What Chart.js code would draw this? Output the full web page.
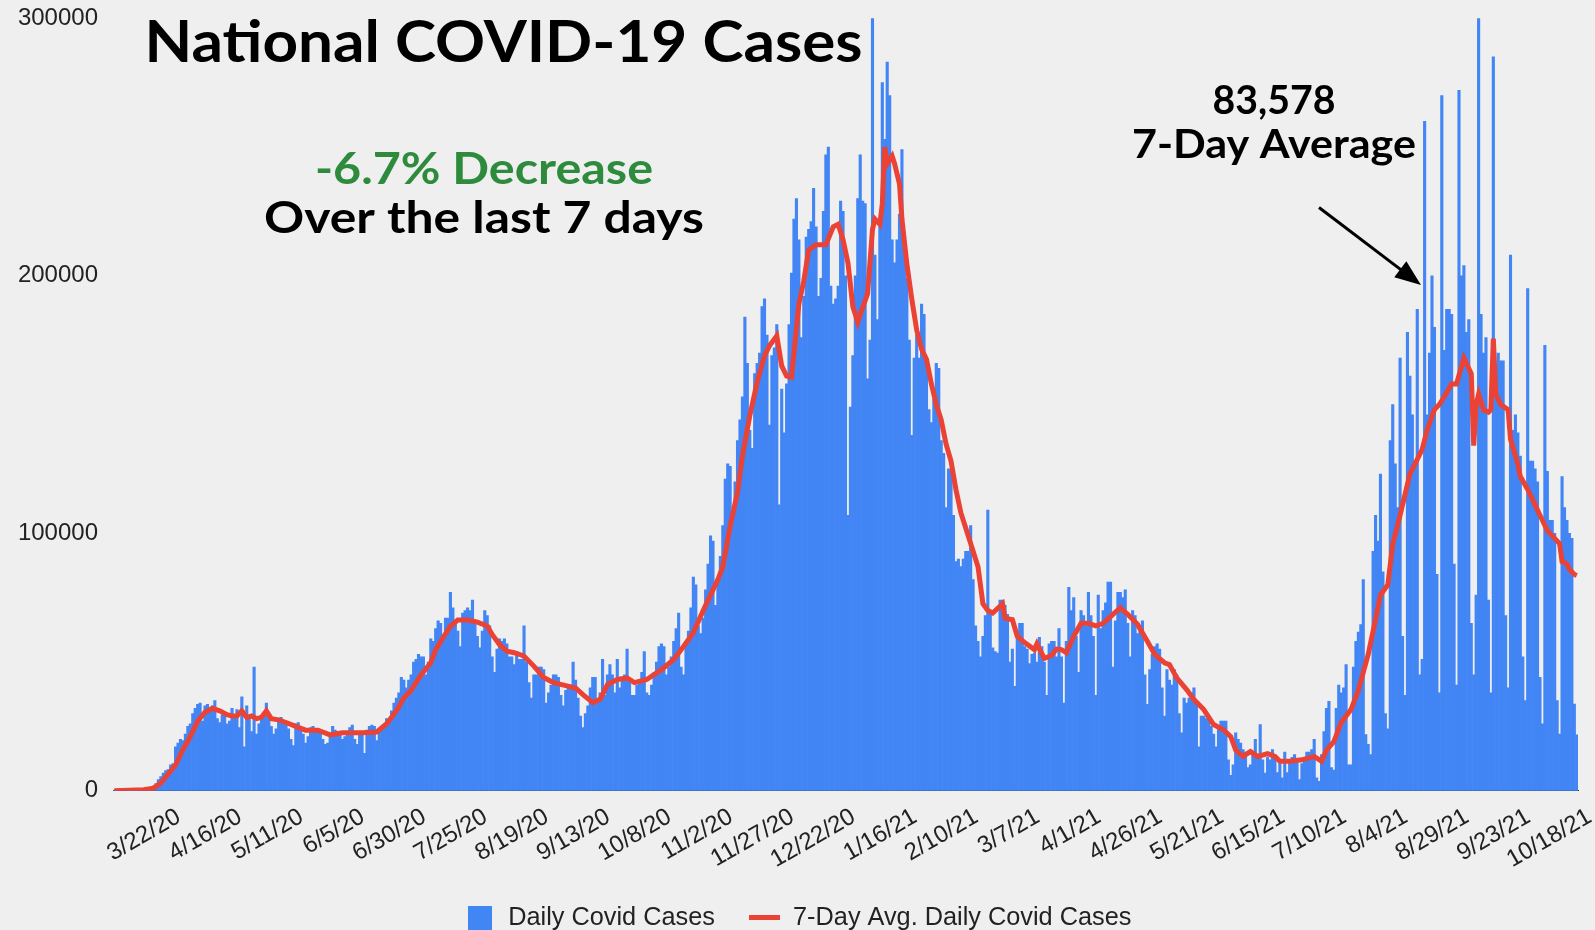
<!DOCTYPE html>
<html lang="en">
<head>
<meta charset="UTF-8">
<title>National COVID-19 Cases</title>
<script src="https://cdn.jsdelivr.net/npm/chart.js@4"></script>
<style>
  html, body { margin: 0; padding: 0; background: #efefef; }
  canvas { display: block; }
</style>
</head>
<body>
<canvas id="covidChart" width="1595" height="930"></canvas>
<script>
// one bar per day, first day is 3/1/20
const firstDay = [2020, 2, 1];

// x labels that are shown (every 25th day)
const tickLabels = ['3/22/20', '4/16/20', '5/11/20', '6/5/20', '6/30/20', '7/25/20', '8/19/20',
  '9/13/20', '10/8/20', '11/2/20', '11/27/20', '12/22/20', '1/16/21', '2/10/21', '3/7/21',
  '4/1/21', '4/26/21', '5/21/21', '6/15/21', '7/10/21', '8/4/21', '8/29/21', '9/23/21', '10/18/21'];

// daily cases, one row per week (Sun..Sat)
const dailyCases = [
  10, 20, 25, 30, 70, 60, 100,
  110, 190, 270, 440, 400, 550, 650,
  800, 1300, 1800, 2800, 4300, 5500, 6800,
  7800, 8200, 10000, 10500, 17000, 18500, 20000,
  19500, 22000, 25000, 26000, 30000, 32000, 33500,
  34000, 27000, 33000, 33500, 31000, 33000, 35000,
  28000, 26500, 29500, 30000, 26000, 27000, 32000,
  29000, 31500, 24500, 36500, 17000, 33000, 28000,
  23000, 48000, 22000, 26000, 28000, 28500, 34000,
  30000, 25000, 22000, 24000, 28000, 28500, 27000,
  25500, 24000, 20000, 17500, 26000, 26500, 24500,
  22000, 18500, 21000, 24500, 25000, 24000, 23500,
  22500, 20000, 18000, 18500, 21000, 25000, 23500,
  23000, 21500, 20000, 21000, 23000, 24500, 25500,
  20000, 18000, 23000, 23000, 14500, 23500, 25000,
  25500, 25000, 19500, 23000, 24500, 25000, 28000,
  27000, 31000, 34000, 36000, 38000, 44000, 43000,
  40000, 43000, 45000, 50000, 51000, 53000, 52000,
  52000, 45000, 50000, 59000, 58000, 63000, 66000,
  65000, 59000, 67000, 67000, 77000, 71000, 65000,
  62000, 56000, 69000, 70000, 71000, 70000, 74000,
  65000, 60000, 55500, 62000, 70000, 68000, 64000,
  52000, 46000, 55000, 59000, 58000, 59000, 57000,
  52000, 52000, 49000, 54000, 51000, 51000, 64000,
  50000, 42000, 36000, 45000, 45000, 48000, 48000,
  47000, 34000, 38000, 41000, 45000, 45000, 44000,
  37000, 33000, 39000, 40000, 41000, 50000, 43000,
  36000, 29000, 24500, 30000, 33000, 40000, 44000,
  44000, 35000, 38000, 51000, 37000, 45000, 49000,
  45000, 38000, 51000, 40000, 44000, 45000, 55000,
  43000, 37000, 37000, 41000, 43000, 46000, 54000,
  38000, 37000, 41000, 46000, 50000, 56000, 57000,
  56000, 45000, 48000, 52000, 58000, 63000, 69000,
  48000, 45000, 58000, 62000, 71000, 83000, 80000,
  64000, 61000, 67000, 78000, 88000, 99000, 97000,
  72000, 82000, 91000, 103000, 121000, 127000, 126000,
  105000, 120000, 136000, 144000, 153000, 184000, 166000,
  140000, 133000, 162000, 166000, 170000, 188000, 191000,
  177000, 142000, 169000, 172000, 181000, 111000, 156000,
  139000, 158000, 181000, 201000, 222000, 230000, 214000,
  176000, 192000, 215000, 218000, 221000, 234000, 219000,
  192000, 199000, 225000, 247000, 250000, 196000, 189000,
  191000, 196000, 229000, 225000, 200000, 107000, 149000,
  169000, 200000, 230000, 247000, 229000, 228000, 160000,
  175000, 300000, 208000, 183000, 222000, 275000, 253000,
  283000, 270000, 214000, 205000, 214000, 224000, 249000,
  209000, 199000, 175000, 138000, 168000, 177000, 168000,
  189000, 185000, 168000, 148000, 143000, 152000, 166000,
  164000, 136000, 131000, 110000, 125000, 124000, 107000,
  89000, 90000, 87000, 90000, 93000, 93000, 103000,
  82000, 64000, 58000, 52000, 60000, 68000, 109000,
  69000, 55500, 54000, 53500, 74000, 74000, 72000,
  68500, 50000, 55000, 40500, 62000, 65000, 65000,
  56000, 55000, 49400, 53000, 53500, 50000, 59600,
  56000, 50000, 37000, 57000, 58000, 58000, 52000,
  63000, 52000, 34000, 58000, 79000, 70000, 75000,
  60000, 46000, 70000, 68000, 64000, 77000, 68000,
  60000, 37000, 76000, 63000, 70000, 73000, 81000,
  81000, 48000, 66000, 77000, 77000, 75000, 78000,
  65000, 52000, 70000, 68000, 61000, 64000, 66000,
  45000, 33500, 47000, 53000, 56000, 57000, 55000,
  40000, 29000, 47000, 43000, 41000, 47000, 45000,
  30000, 22500, 36000, 34000, 36000, 38000, 40000,
  34000, 17000, 29000, 29000, 28000, 28000, 25000,
  22000, 17000, 24000, 27000, 27000, 27000, 12000,
  6000, 10000, 22500, 20000, 18500, 16000, 15000,
  9000, 10000, 15000, 20000, 14000, 25700, 12000,
  6800, 13000, 12000, 16000, 13000, 7000, 10500,
  5000, 15000, 7000, 12000, 13000, 14000, 12000,
  4300, 10500, 13000, 15000, 15000, 16000, 20000,
  5000, 3600, 14000, 23000, 32000, 34700, 9000,
  8000, 32000, 41000, 38000, 40000, 49000, 10000,
  10000, 48000, 58000, 61600, 64500, 82000, 21800,
  18000, 14000, 93000, 107000, 97000, 123000, 85000,
  30000, 24000, 136000, 150000, 127000, 110000, 168000,
  60000, 37000, 178000, 161000, 146000, 127000, 187000,
  45000, 51000, 260000, 146000, 170000, 200000, 180000,
  84000, 38000, 270000, 171000, 187000, 187000, 185000,
  88000, 41000, 272000, 200000, 204000, 178000, 183000,
  65000, 45000, 76000, 300000, 185000, 170000, 176000,
  74000, 38000, 285000, 160000, 170000, 167000, 167000,
  68000, 40000, 208000, 140000, 146000, 139000, 130000,
  52000, 35000, 195000, 128000, 128000, 125000, 120000,
  44000, 26000, 173000, 124000, 105000, 105000, 100000,
  35000, 22000, 122000, 110000, 105000, 100000, 98000,
  33600, 21700
];

// 7-day average, read at these days (days after 3/1/20)
const avgDays = [0, 12, 16, 19, 22, 25, 28, 31, 34, 37, 40, 43, 46, 48, 50, 52, 54, 56, 58, 60,
  62, 64, 67, 70, 74, 78, 83, 88, 93, 101, 107, 111, 115, 118, 121, 125, 129, 131, 134, 137,
  140, 144, 148, 152, 154, 157, 160, 163, 165, 167, 171, 175, 179, 184, 188, 191, 195, 198, 201, 205,
  209, 212, 217, 223, 228, 232, 236, 239, 241, 244, 246, 248, 251, 254, 256, 259, 262, 265, 267, 270,
  272, 274, 276, 277, 279, 281, 283, 286, 290, 293, 295, 297, 299, 301, 303, 304, 307, 309, 310, 312,
  313, 314, 315, 317, 318, 320, 321, 323, 325, 327, 329, 331, 333, 335, 337, 339, 341, 343, 345, 347,
  349, 352, 354, 356, 358, 362, 363, 366, 368, 371, 375, 376, 379, 382, 384, 386, 388, 391, 394, 397,
  400, 403, 407, 410, 413, 417, 421, 424, 428, 430, 433, 437, 440, 444, 448, 452, 455, 457, 460, 463,
  466, 470, 473, 475, 479, 484, 489, 492, 494, 497, 500, 504, 507, 511, 514, 516, 519, 521, 524, 526,
  528, 531, 533, 535, 538, 540, 542, 545, 547, 550, 552, 553, 554, 555, 556, 558, 560, 561, 562, 563,
  565, 568, 569, 572, 573, 576, 579, 581, 584, 587, 589, 590, 592, 593, 595, 596];
const avgCases = [0, 400, 1000, 3000, 6500, 10000, 16000, 21000, 27000, 30500, 32000, 31000, 29500, 29000, 29000, 31000, 28500, 29000, 28000, 28500,
  31000, 28000, 27500, 26500, 25000, 23500, 23500, 21700, 22500, 22500, 22800, 26000, 31000, 36000, 39000, 45000, 49700, 54800, 59500, 63900,
  66300, 66300, 65500, 64000, 60700, 56800, 54200, 53600, 53000, 52300, 48400, 44000, 42000, 40800, 39900, 37300, 34200, 35500, 41200, 43200,
  43800, 42000, 43200, 47000, 51000, 56000, 61400, 67800, 72000, 78000, 82000, 87000, 102800, 115900, 130000, 145600, 158700, 169000, 172800, 176700,
  165000, 161000, 160600, 170000, 189000, 198000, 210000, 212000, 212000, 219000, 220000, 214000, 205000, 188000, 182000, 185000, 193000, 218000, 222000, 220000,
  228000, 250000, 243500, 246500, 243500, 235700, 222000, 204600, 191000, 179000, 171500, 167600, 158000, 150000, 144000, 134600, 128000, 117000, 108000, 102000,
  96000, 87000, 72600, 70000, 69000, 72600, 67000, 66400, 60000, 57500, 54800, 57000, 51400, 52500, 55000, 54800, 53600, 60000, 65000, 65000,
  64000, 65000, 68500, 71000, 68500, 64600, 58000, 52900, 49700, 49000, 43800, 39300, 35400, 31500, 25700, 23700, 21000, 15800, 13300, 15200,
  13300, 14400, 13300, 11400, 11400, 12000, 13300, 11400, 15800, 19000, 26500, 31500, 39000, 52900, 66500, 76000, 80000, 95700, 107000, 115000,
  123000, 128700, 132600, 140000, 148000, 150000, 153000, 158000, 158000, 168000, 164000, 162000, 134000, 150000, 154000, 148000, 147000, 148000, 175600, 154000,
  150000, 148000, 136500, 126800, 122000, 117000, 111000, 107000, 101000, 98000, 96000, 89000, 88000, 86000, 84000, 83578];

const dates = dailyCases.map((_, i) => {
  const d = new Date(firstDay[0], firstDay[1], firstDay[2] + i);
  return `${d.getMonth() + 1}/${d.getDate()}/${String(d.getFullYear()).slice(2)}`;
});
const avgPoints = avgDays.map((day, k) => ({ x: dates[day], y: avgCases[k] }));

const axisFont = { family: '"Liberation Sans", Arial, sans-serif', size: 24 };
const blue = '#4285f4';
const red = '#ea4335';

// legend markers: a square and a short thick line
function legendMark(w, h, color) {
  const cv = document.createElement('canvas');
  cv.width = w;
  cv.height = h;
  const g = cv.getContext('2d');
  g.fillStyle = color;
  g.fillRect(0, 0, w, h);
  return cv;
}

// headline texts and the arrow
function fittedText(c, text, cx, baseY, width, size, color) {
  c.font = `bold ${size}px Lato, "Open Sans", sans-serif`;
  const w = c.measureText(text).width;
  c.save();
  c.translate(cx, baseY);
  c.scale(width / w, 1);
  c.fillStyle = color;
  c.textAlign = 'center';
  c.textBaseline = 'alphabetic';
  c.fillText(text, 0, 0);
  c.restore();
}

const notes = {
  id: 'notes',
  afterLayout(chart) {
    // centre the legend on the whole canvas, not on the padded box
    chart.legend.right = chart.width;
  },
  afterDraw(chart) {
    const c = chart.ctx;
    fittedText(c, 'National COVID-19 Cases', 503.5, 62, 718, 58, '#000');
    fittedText(c, '-6.7% Decrease', 484, 184, 338, 44, '#2e8b3e');
    fittedText(c, 'Over the last 7 days', 484, 233, 440, 44, '#000');
    fittedText(c, '83,578', 1274, 114, 123, 41, '#000');
    fittedText(c, '7-Day Average', 1274, 157.5, 284, 40, '#000');

    // arrow
    const x1 = 1319, y1 = 207.5, x2 = 1421, y2 = 285;
    const ang = Math.atan2(y2 - y1, x2 - x1);
    c.save();
    c.strokeStyle = '#000';
    c.fillStyle = '#000';
    c.lineWidth = 3;
    c.beginPath();
    c.moveTo(x1, y1);
    c.lineTo(x2 - 20 * Math.cos(ang), y2 - 20 * Math.sin(ang));
    c.stroke();
    c.translate(x2, y2);
    c.rotate(ang);
    c.beginPath();
    c.moveTo(0, 0);
    c.lineTo(-26, -10);
    c.lineTo(-26, 10);
    c.closePath();
    c.fill();
    c.restore();
  }
};

new Chart(document.getElementById('covidChart'), {
  type: 'bar',
  data: {
    labels: dates,
    datasets: [
      {
        type: 'bar',
        label: 'Daily Covid Cases',
        data: dailyCases,
        backgroundColor: blue,
        borderWidth: 0,
        barPercentage: 1,
        categoryPercentage: 1,
        pointStyle: legendMark(24, 24, blue),
        order: 2
      },
      {
        type: 'line',
        label: '7-Day Avg. Daily Covid Cases',
        data: avgPoints,
        borderColor: red,
        backgroundColor: red,
        borderWidth: 5,
        pointRadius: 0,
        tension: 0,
        pointStyle: legendMark(31, 5, red),
        order: 1
      }
    ]
  },
  options: {
    responsive: false,
    animation: false,
    devicePixelRatio: 1,
    layout: { padding: { left: 0, right: 17, top: 18.3, bottom: -10.5 } },
    plugins: {
      tooltip: { enabled: false },
      legend: {
        position: 'bottom',
        labels: {
          font: { family: axisFont.family, size: 25.3 },
          color: '#222',
          usePointStyle: true,
          pointStyleWidth: 32,
          boxHeight: 24,
          padding: 33.5,
          sort: (a, b) => a.datasetIndex - b.datasetIndex
        }
      }
    },
    scales: {
      x: {
        grid: { display: false, drawTicks: false },
        border: { display: true, color: '#333', width: 1 },
        afterFit: axis => {
          axis.height = 81;
          axis.paddingLeft = 0;
          axis.paddingRight = 0;
        },
        ticks: {
          autoSkip: false,
          maxRotation: 30,
          minRotation: 30,
          padding: 12,
          labelOffset: 13,
          font: axisFont,
          color: '#222',
          callback: function (value) {
            const lab = this.getLabelForValue(value);
            return tickLabels.includes(lab) ? lab : '';
          }
        }
      },
      y: {
        min: 0,
        max: 300000,
        grid: { display: false, drawTicks: false },
        border: { display: false },
        afterFit: axis => {
          axis.width = 113;
          axis.paddingTop = 0;
          axis.paddingBottom = 0;
        },
        ticks: {
          stepSize: 100000,
          padding: 15,
          font: axisFont,
          color: '#222',
          callback: v => String(v)
        }
      }
    }
  },
  plugins: [notes]
});
</script>
</body>
</html>
